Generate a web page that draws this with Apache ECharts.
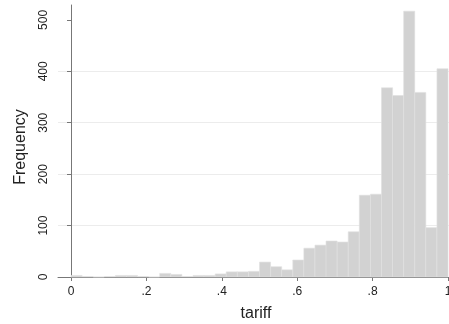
<!DOCTYPE html>
<html>
<head>
<meta charset="utf-8">
<script src="https://cdn.jsdelivr.net/npm/echarts@6/dist/echarts.min.js"></script>
<style>
  html, body { margin: 0; padding: 0; background: #fff; }
  #chart { width: 449px; height: 324px; }
</style>
</head>
<body>
<div id="chart"></div>
<script>
// 34 equal bins from 0 to 1 (Stata style histogram of tariff)
var binCount = 34;
var counts = [3, 1, 0, 1, 3, 3, 1, 0, 7, 5, 1, 3, 3, 6, 10, 10, 11, 29, 20, 14,
              33, 56, 62, 70, 68, 88, 159, 161, 368, 353, 517, 359, 96, 405];
var xTicks = [0, 0.2, 0.4, 0.6, 0.8, 1];
var yTicks = [0, 100, 200, 300, 400, 500];

var bins = counts.map(function (c, k) {
  return [k / binCount, (k + 1) / binCount, c];
});

var chart = echarts.init(document.getElementById("chart"));
chart.setOption({
  animation: false,
  grid: {
    left: 58,
    right: 0,
    top: 5,
    bottom: 47,
    outerBoundsMode: "none"
  },
  xAxis: {
    type: "value",
    min: -0.0345,
    max: 1.0026,
    name: "tariff",
    nameLocation: "middle",
    nameGap: 29,
    nameTextStyle: { color: "#222", fontSize: 16, fontFamily: "Liberation Sans", padding: [0, 0, 0, 5] },
    axisLine: { show: true, lineStyle: { color: "#777", width: 1 } },
    axisTick: { show: true, length: 4, customValues: xTicks, lineStyle: { color: "#777" } },
    axisLabel: {
      customValues: xTicks,
      margin: 9,
      color: "#222",
      fontSize: 12,
      fontFamily: "Liberation Sans",
      formatter: function (v) {
        return String(Math.round(v * 10) / 10).replace(/^0\./, ".");
      }
    },
    splitLine: { show: false }
  },
  yAxis: {
    type: "value",
    min: 0,
    max: 529,
    name: "Frequency",
    nameLocation: "middle",
    nameGap: 29,
    nameTextStyle: { color: "#222", fontSize: 16, fontFamily: "Liberation Sans", padding: [4, 12, 0, 0] },
    axisLine: { show: true, lineStyle: { color: "#777", width: 1 } },
    axisTick: { show: true, length: 4, customValues: yTicks, lineStyle: { color: "#777" } },
    axisLabel: {
      customValues: yTicks,
      rotate: 90,
      margin: 8,
      color: "#222",
      fontSize: 12,
      fontFamily: "Liberation Sans"
    },
    splitLine: { show: true, showMaxLine: false, lineStyle: { color: "#ececec", width: 1 } }
  },
  series: [
    {
      type: "custom",
      data: bins,
      encode: { x: [0, 1], y: 2 },
      renderItem: function (params, api) {
        var start = api.coord([api.value(0), 0]);
        var end = api.coord([api.value(1), api.value(2)]);
        return {
          type: "rect",
          shape: {
            x: start[0],
            y: end[1],
            width: end[0] - start[0],
            height: start[1] - end[1]
          },
          style: { fill: "#d2d2d2", stroke: "#e0e0e0", lineWidth: 0.6 }
        };
      }
    }
  ]
});
</script>
</body>
</html>
